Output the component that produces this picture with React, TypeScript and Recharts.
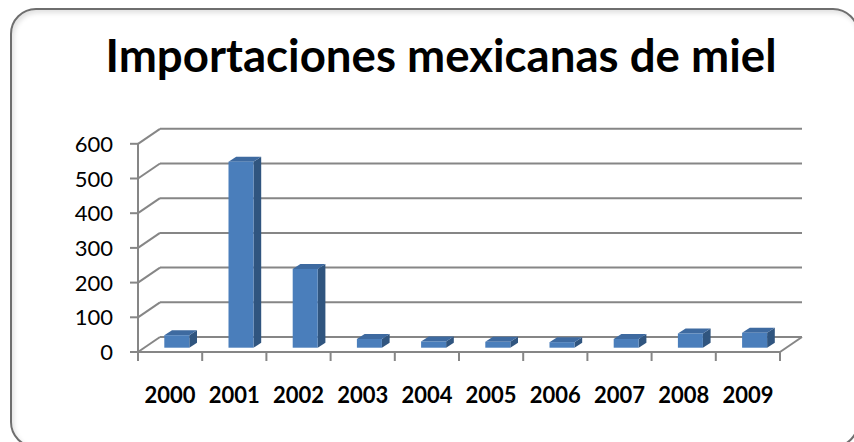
import { Bar, BarChart, CartesianGrid, XAxis, YAxis } from "recharts";

// Importaciones mexicanas de miel, 2000-2009
const years = ["2000", "2001", "2002", "2003", "2004", "2005", "2006", "2007", "2008", "2009"];
const imports = [36, 536, 227, 25, 18, 17, 16, 25, 41, 43];
const yTicks = [0, 100, 200, 300, 400, 500, 600];

const data = years.map((year, i) => ({ year, value: imports[i] }));

// fake-3D offsets: bars sit at mid depth, front axis sits below-left, back wall above-right
const FRONT_DX = -6.3;
const FRONT_DY = 4.3;
const BACK_DX = 15.7;
const BACK_DY = -10.7;
const BOX_DX = 7.7;
const BOX_DY = 5;
const HALF_BAND = 32.1;
const PLOT_TOP = 139.5;
const PLOT_BOTTOM = 347.7;

const GRID = "#868686";
const FONT = "Lato, 'Open Sans', sans-serif";

function GridLine(p: any) {
  const { x1, x2, y1, index } = p;
  const isFloor = Math.abs(y1 - PLOT_BOTTOM) < 1;
  return (
    <g key={`grid-${index}-${y1}`}>
      <line x1={x1 + FRONT_DX} y1={y1 + FRONT_DY} x2={x1 + BACK_DX} y2={y1 + BACK_DY} stroke={GRID} strokeWidth={2} />
      <line x1={x1 + BACK_DX} y1={y1 + BACK_DY} x2={x2 + BACK_DX} y2={y1 + BACK_DY} stroke={GRID} strokeWidth={2} />
      {isFloor && (
        <>
          <line x1={x2 + FRONT_DX} y1={y1 + FRONT_DY} x2={x2 + BACK_DX} y2={y1 + BACK_DY} stroke={GRID} strokeWidth={2} />
          {/* front value axis */}
          <line
            x1={x1 + FRONT_DX}
            y1={y1 + FRONT_DY}
            x2={x1 + FRONT_DX}
            y2={PLOT_TOP + FRONT_DY}
            stroke={GRID}
            strokeWidth={2}
          />
        </>
      )}
    </g>
  );
}

function YTick(p: any) {
  const { x, y, payload } = p;
  const fx = x + FRONT_DX;
  const fy = y + FRONT_DY;
  return (
    <g>
      <line x1={fx - 8} y1={fy} x2={fx} y2={fy} stroke={GRID} strokeWidth={2} />
      <text x={fx - 25} y={fy + 8} textAnchor="end" fontFamily={FONT} fontWeight={400} fontSize={22} fill="#000">
        {payload.value}
      </text>
    </g>
  );
}

function XTick(p: any) {
  const { x, y, payload, index } = p;
  const fx = x + FRONT_DX;
  const fy = y + FRONT_DY;
  const last = index === years.length - 1;
  return (
    <g>
      <line x1={fx - HALF_BAND} y1={fy} x2={fx - HALF_BAND} y2={fy + 9} stroke={GRID} strokeWidth={2} />
      {last && <line x1={fx + HALF_BAND} y1={fy} x2={fx + HALF_BAND} y2={fy + 9} stroke={GRID} strokeWidth={2} />}
      <text x={fx} y={y + 55.3} textAnchor="middle" fontFamily={FONT} fontWeight={700} fontSize={22} fill="#000">
        {payload.value}
      </text>
    </g>
  );
}

function Box(p: any) {
  const { x, y, width, height } = p;
  if (!height) return null;
  const top = `${x},${y} ${x + BOX_DX},${y - BOX_DY} ${x + width + BOX_DX},${y - BOX_DY} ${x + width},${y}`;
  const side = `${x + width},${y} ${x + width + BOX_DX},${y - BOX_DY} ${x + width + BOX_DX},${y + height - BOX_DY} ${x + width},${y + height}`;
  return (
    <g>
      <polygon points={side} fill="#30557f" />
      <polygon points={top} fill="#3e6aa0" />
      <rect x={x} y={y} width={width} height={height} fill="#4a7ebb" />
    </g>
  );
}

export default function App() {
  return (
    <div style={{ position: "fixed", left: 0, top: 0, width: 854, height: 442, background: "#fff", overflow: "hidden" }}>
      <div
        style={{
          position: "absolute",
          left: 10,
          top: 8,
          width: 845,
          height: 436,
          border: "2.5px solid #6e6e6e",
          borderRadius: 26,
          boxShadow: "inset 2px 3px 5px rgba(0,0,0,0.12)",
        }}
      />
      <svg width={854} height={100} style={{ position: "absolute", left: 0, top: 0 }}>
        <text
          x={441}
          y={72}
          textAnchor="middle"
          fontFamily={FONT}
          fontWeight={700}
          fontSize={46}
          textLength={671}
          lengthAdjust="spacingAndGlyphs"
          fill="#000"
        >
          Importaciones mexicanas de miel
        </text>
      </svg>
      <BarChart
        style={{ position: "absolute", left: 0, top: 0 }}
        width={854}
        height={442}
        data={data}
        margin={{ top: PLOT_TOP, right: 67.7, bottom: 54.3, left: 84.3 }}
      >
        <CartesianGrid vertical={false} horizontal={GridLine} />
        <XAxis
          dataKey="year"
          height={40}
          interval={0}
          tickLine={false}
          tickSize={0}
          tickMargin={0}
          axisLine={{ stroke: GRID, strokeWidth: 2, transform: `translate(${FRONT_DX},${FRONT_DY})` }}
          tick={XTick}
        />
        <YAxis
          width={60}
          domain={[0, 600]}
          ticks={yTicks}
          interval={0}
          tickLine={false}
          tickSize={0}
          tickMargin={0}
          axisLine={false}
          tick={YTick}
        />
        <Bar dataKey="value" barSize={25} shape={Box} isAnimationActive={false} />
      </BarChart>
    </div>
  );
}
